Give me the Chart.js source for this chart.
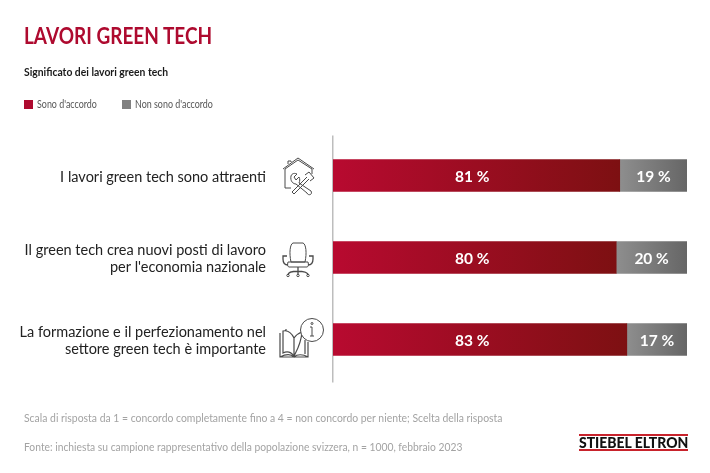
<!DOCTYPE html>
<html>
<head>
<meta charset="utf-8">
<script src="https://cdn.jsdelivr.net/npm/chart.js@4"></script>
<style>
body { margin: 0; background: #fff; font-family: Lato, sans-serif; }
#wrap { position: relative; width: 710px; height: 473px; overflow: hidden; }
#wrap canvas { position: absolute; left: 0; top: 0; }
.t { position: absolute; white-space: nowrap; line-height: 1; transform-origin: left top; }
.sw { position: absolute; width: 9px; height: 9px; }
svg { position: absolute; fill: none; stroke: #4a4a4a; stroke-width: 1; }
</style>
</head>
<body>
<div id="wrap">
  <canvas id="chart" width="710" height="473"></canvas>
  <div class="t" style="left:24px;top:24px;font-size:23px;font-weight:700;color:#ae0a2f;transform:scaleX(.825)">LAVORI GREEN TECH</div>
  <div class="t" style="left:24px;top:66px;font-size:11.5px;font-weight:700;color:#1a1a1a;transform:scaleX(.9)">Significato dei lavori green tech</div>
  <div id="legend"></div>
  <svg style="left:280px;top:155px" width="40" height="42" viewBox="0 0 40 42">
    <path d="M5 14 L18 5 L32 14 M3 14 L18 3 L34 14 M5 14 V33 H11 M32 14 V19 M8 9 V6 H11 V7"/>
    <path d="M12 37 L27 22 M14 39 L29 24 M12 37 L14 39 M25 20 L29 17 L34 23 L30 26"/>
    <path d="M11 21 C12 18 15 18 17 19 L14 22 L16 25 L19 22 C20 24 20 26 19 28 L31 36 C33 40 28 41 27 38 L16 29 C13 29 10 26 11 21Z"/>
  </svg>
  <svg style="left:282px;top:240px" width="36" height="38" viewBox="0 0 36 38">
    <path d="M9 22 C7 13 8 4 11 3 H21 C24 4 25 13 23 22 Z M6 22 H26 C27 25 26 27 25 27 H7 C6 27 5 25 6 22 Z"/>
    <path d="M5 16 H1 V19 C1 23 3 25 6 25 M27 16 H31 V19 C31 23 29 25 26 25 M16 27 V31 M6 35 C6 30 26 30 26 35 M16 31 V34" stroke-width="1.3"/>
    <circle cx="6" cy="35.5" r="1.2"/><circle cx="16" cy="35.5" r="1.2"/><circle cx="26" cy="35.5" r="1.2"/>
  </svg>
  <svg style="left:278px;top:316px" width="48" height="46" viewBox="0 0 48 46">
    <path d="M2 17 V41 H30 V26 M2 41 C8 38 13 38 16 41 C19 38 25 38 30 41 M5 15 V37 C9 35 13 36 16 40 V22 C13 16 9 14 5 15 Z M16 40 C19 34 23 28 24 16 C21 17 18 19 16 22 M8 13 V15 M27 24 V38" stroke-width="1.2"/>
    <circle cx="34" cy="14" r="11.5" fill="#fff"/>
    <path d="M34 11 V20 M32 11 H34 M32 20 H36"/><circle cx="34" cy="7.5" r="1"/>
  </svg>
  <div class="t" style="left:24px;top:412px;font-size:11.5px;color:#a3a3a3;transform:scaleX(.905)">Scala di risposta da 1 = concordo completamente fino a 4 = non concordo per niente; Scelta della risposta</div>
  <div class="t" style="left:24px;top:441px;font-size:11.5px;color:#a3a3a3;transform:scaleX(.895)">Fonte: inchiesta su campione rappresentativo della popolazione svizzera, n = 1000, febbraio 2023</div>
  <div style="position:absolute;left:579px;top:434px;width:109px;height:2px;background:#c8232c"></div>
  <div class="t" style="left:579px;top:435px;font-size:15.5px;font-weight:900;color:#111;transform:scaleX(.9)">STIEBEL ELTRON</div>
  <div style="position:absolute;left:579px;top:449px;width:109px;height:2px;background:#c8232c"></div>
</div>
<script>
const categories = [
    ['I lavori green tech sono attraenti'],
    ['Il green tech crea nuovi posti di lavoro', "per l'economia nazionale"],
    ['La formazione e il perfezionamento nel', 'settore green tech è importante']
];
const agree = [81, 80, 83];
const disagree = [19, 20, 17];
const seriesNames = ["Sono d'accordo", "Non sono d'accordo"];
const xTicks = [0, 100];

function barGradient(ctx, from, to) {
    const chart = ctx.chart;
    if (!chart.chartArea || ctx.type !== 'data') return from;
    const x = chart.scales.x;
    const start = ctx.datasetIndex === 0 ? 0 : agree[ctx.dataIndex];
    const end = ctx.datasetIndex === 0 ? agree[ctx.dataIndex] : 100;
    const g = chart.ctx.createLinearGradient(x.getPixelForValue(start), 0, x.getPixelForValue(end), 0);
    g.addColorStop(0, from);
    g.addColorStop(1, to);
    return g;
}

// percent labels inside the bars
const barLabels = {
    id: 'barLabels',
    afterDatasetsDraw(chart) {
        const c = chart.ctx;
        c.save();
        c.font = '700 15.5px Lato';
        c.fillStyle = '#fff';
        c.textAlign = 'center';
        c.textBaseline = 'middle';
        chart.data.datasets.forEach((ds, i) => {
            chart.getDatasetMeta(i).data.forEach((bar, j) => {
                const x = i === 0 ? chart.scales.x.getPixelForValue(39.3) : (bar.x + bar.base) / 2;
                c.fillText(ds.data[j] + ' %', x, bar.y + 1);
            });
        });
        c.restore();
    }
};

// nudge the axis layer down a little, tick text sits low in the original
const axisNudge = {
    id: 'axisNudge',
    beforeDraw(chart) {
        chart.ctx.save();
        chart.ctx.translate(0, 1.5);
    },
    beforeDatasetsDraw(chart) {
        chart.ctx.restore();
    }
};

new Chart(document.getElementById('chart'), {
    type: 'bar',
    data: {
        labels: categories,
        datasets: [{
            label: seriesNames[0],
            data: agree,
            backgroundColor: ctx => barGradient(ctx, '#b80a30', '#7d1012')
        }, {
            label: seriesNames[1],
            data: disagree,
            backgroundColor: ctx => barGradient(ctx, '#8e8e8e', '#666666')
        }]
    },
    options: {
        indexAxis: 'y',
        responsive: false,
        animation: false,
        layout: { padding: { top: 134.5, right: 23, bottom: 92.5, left: 0 } },
        datasets: { bar: { barThickness: 32 } },
        plugins: { legend: { display: false }, tooltip: { enabled: false } },
        scales: {
            x: {
                stacked: true,
                min: xTicks[0],
                max: xTicks[1],
                display: false
            },
            y: {
                stacked: true,
                afterFit(scale) { scale.width = 333; },
                grid: { display: false, drawTicks: false },
                border: { display: true, color: '#bdbdbd', width: 1.5 },
                ticks: {
                    padding: 67,
                    color: '#222',
                    font: { family: 'Lato', size: 14.5, lineHeight: 1.17 }
                }
            }
        }
    },
    plugins: [barLabels, axisNudge]
});

// legend
const legendColors = ['#ae0a2f', '#808080'];
const legendX = [24, 122];
const legend = document.getElementById('legend');
seriesNames.forEach((name, i) => {
    legend.innerHTML += '<div class="sw" style="left:' + legendX[i] + 'px;top:100px;background:' + legendColors[i] + '"></div>' +
        '<div class="t" style="left:' + (legendX[i] + 13) + 'px;top:99px;font-size:10.5px;color:#555;transform:scaleX(.85)">' + name + '</div>';
});
</script>
</body>
</html>
